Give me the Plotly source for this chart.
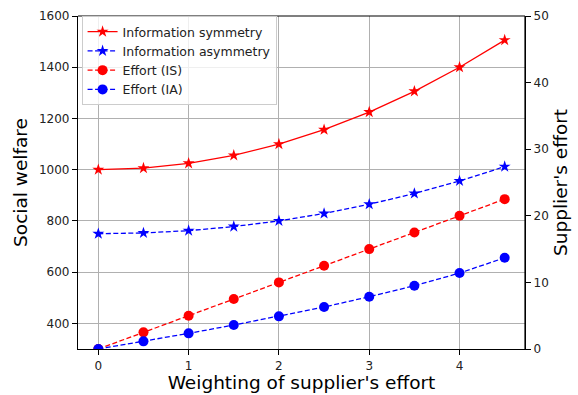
import plotly.graph_objects as go

# Weighting of the supplier's effort
weights = [0, 0.5, 1, 1.5, 2, 2.5, 3, 3.5, 4, 4.5]

# Social welfare (left axis)
welfare_sym = [1000, 1006, 1025, 1056, 1100, 1156, 1225, 1306, 1400, 1506]
welfare_asym = [750, 753, 762, 778, 800, 829, 865, 907, 956, 1012]

# Supplier's effort (right axis)
effort_is = [0, 2.5, 5.0, 7.5, 10.0, 12.5, 15.0, 17.5, 20.0, 22.5]
effort_ia = [0, 1.15, 2.35, 3.6, 4.9, 6.3, 7.85, 9.5, 11.4, 13.7]

RED = "#ff0000"
BLUE = "#0000ff"
FONT = "DejaVu Sans"

fig = go.Figure()
fig.add_trace(go.Scatter(
    x=weights, y=welfare_sym, name="Information symmetry", mode="lines+markers",
    line=dict(color=RED, width=1.3),
    marker=dict(symbol="star", size=9, color=RED)))
fig.add_trace(go.Scatter(
    x=weights, y=welfare_asym, name="Information asymmetry", mode="lines+markers",
    line=dict(color=BLUE, width=1.3, dash="5px,2.5px"),
    marker=dict(symbol="star", size=9, color=BLUE)))
fig.add_trace(go.Scatter(
    x=weights, y=effort_is, name="Effort (IS)", mode="lines+markers", yaxis="y2",
    line=dict(color=RED, width=1.3, dash="5px,2.5px"),
    marker=dict(symbol="circle", size=10, color=RED)))
fig.add_trace(go.Scatter(
    x=weights, y=effort_ia, name="Effort (IA)", mode="lines+markers", yaxis="y2",
    line=dict(color=BLUE, width=1.3, dash="5px,2.5px"),
    marker=dict(symbol="circle", size=10, color=BLUE)))

axis_common = dict(
    showline=True, linecolor="black", linewidth=1.2, mirror=False,
    ticks="outside", ticklen=5, tickcolor="black", tickwidth=1,
    tickfont=dict(family=FONT, size=12, color="#222"),
    zeroline=False, automargin=False,
)

fig.update_layout(
    width=578, height=395,
    margin=dict(l=78, r=53, t=16, b=46),
    paper_bgcolor="white", plot_bgcolor="white",
    font=dict(family=FONT, color="black"),
    showlegend=True,
    legend=dict(
        x=0.008, y=1.0, xanchor="left", yanchor="top",
        bgcolor="rgba(255,255,255,0.8)", bordercolor="#cccccc", borderwidth=1,
        font=dict(family=FONT, size=12.5, color="#222"),
        tracegroupgap=0, itemwidth=30,
    ),
    xaxis=dict(
        **axis_common,
        range=[-0.225, 4.725], tickvals=[0, 1, 2, 3, 4],
        showgrid=True, gridcolor="#b0b0b0", gridwidth=1,
        title=dict(text="Weighting of supplier's effort",
                   font=dict(family=FONT, size=18.5), standoff=4),
    ),
    yaxis=dict(
        **axis_common,
        range=[300, 1600], tickvals=[400, 600, 800, 1000, 1200, 1400, 1600],
        showgrid=True, gridcolor="#b0b0b0", gridwidth=1,
        title=dict(text="Social welfare", font=dict(family=FONT, size=18.5), standoff=6),
    ),
    yaxis2=dict(
        **axis_common,
        overlaying="y", side="right", anchor="x",
        range=[0, 50], tickvals=[0, 10, 20, 30, 40, 50],
        showgrid=False,
        title=dict(text="Supplier's effort", font=dict(family=FONT, size=18.5), standoff=6),
    ),
)

# Top and right frame lines
fig.add_shape(type="line", xref="paper", yref="paper", x0=0, x1=1, y0=1, y1=1,
              line=dict(color="black", width=1.2))
fig.add_shape(type="line", xref="paper", yref="paper", x0=1, x1=1, y0=0, y1=1,
              line=dict(color="black", width=1.2))

fig.write_html("out.html")
